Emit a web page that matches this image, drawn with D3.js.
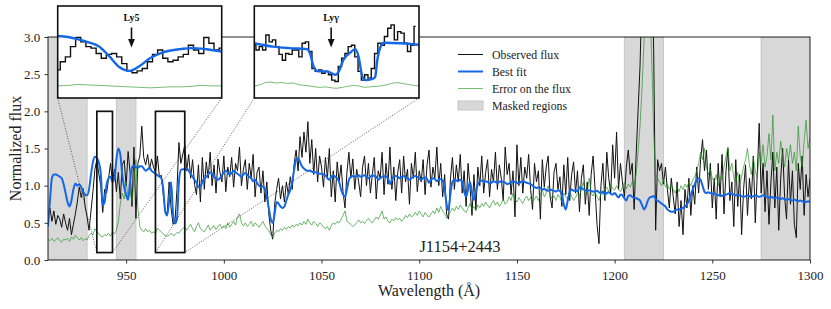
<!DOCTYPE html>
<html>
<head>
<meta charset="utf-8">
<script src="https://cdn.jsdelivr.net/npm/d3@7"></script>
<style>
  body { margin: 0; background: #fff; }
  svg { display: block; }
  svg text { font-family: "Liberation Serif", "DejaVu Serif", serif; }
</style>
</head>
<body>
<div id="chart"></div>
<script>
"use strict";

// main spectrum, 1 A bins starting at 910 A
var waveStart = 910;
var waveEnd = 1300;

var observedFlux = [
  0.62, 0.70, 0.52, 0.66, 0.48, 0.60, 0.55, 0.44, 0.62, 0.50,
  0.40, 0.56, 0.34, 0.48, 0.62, 0.78, 0.98, 0.84, 0.96, 0.72,
  0.58, 0.40, 0.66, 0.92, 1.22, 1.35, 1.16, 1.00, 0.64, 0.95,
  0.90, 1.10, 1.30, 1.04, 1.22, 0.92, 1.18, 0.82, 1.28, 1.34,
  1.00, 1.46, 1.18, 0.72, 1.52, 0.56, 1.30, 1.40, 1.80, 1.38,
  1.28, 1.42, 1.22, 1.36, 1.25, 1.18, 1.40, 1.12, 1.14, 0.88,
  0.66, 0.62, 1.05, 0.70, 0.48, 0.52, 0.95, 1.58, 1.30, 1.42,
  1.55, 1.20, 1.42, 1.10, 1.35, 1.02, 0.88, 1.28, 0.78, 1.38,
  0.95, 1.32, 1.10, 1.45, 1.00, 1.28, 0.90, 1.36, 1.18, 1.05,
  1.40, 0.92, 1.25, 1.12, 1.38, 0.98, 1.30, 1.20, 1.52, 1.00,
  1.22, 1.35, 0.95, 1.30, 1.10, 1.42, 0.85, 1.18, 1.25, 0.90,
  1.20, 0.78, 1.05, 0.62, 0.40, 0.28, 0.75, 0.95, 1.10, 0.82,
  1.00, 0.78, 1.05, 0.88, 1.12, 0.95, 1.30, 1.48, 1.20, 1.66,
  1.38, 1.72, 1.45, 1.86, 1.30, 1.62, 1.15, 1.50, 1.05, 1.40,
  1.25, 0.98, 1.38, 1.10, 1.50, 0.85, 1.20, 0.78, 1.32, 1.05,
  1.28, 0.92, 0.70, 1.18, 1.45, 1.10, 1.36, 0.95, 1.22, 1.05,
  0.85, 1.25, 1.40, 1.00, 1.30, 0.90, 1.15, 1.38, 0.82, 1.20,
  1.10, 1.45, 0.88, 1.30, 1.02, 1.52, 0.95, 1.25, 0.80, 1.18,
  1.35, 0.90, 1.40, 1.05, 1.22, 0.75, 1.30, 1.10, 1.45, 0.92,
  1.20, 1.05, 1.35, 0.88, 1.28, 1.48, 0.98, 1.25, 1.10, 1.52,
  1.00, 1.30, 0.85, 1.15, 0.62, 0.55, 1.10, 1.38, 0.95, 1.28,
  1.05, 1.42, 0.90, 1.20, 0.72, 1.30, 0.98, 0.60, 1.15, 0.68,
  1.25, 1.00, 1.40, 0.90, 1.18, 1.35, 0.85, 1.22, 1.05, 1.45,
  0.95, 1.28, 1.10, 0.80, 1.52, 1.15, 1.30, 0.88, 1.20, 0.58,
  1.55, 1.00, 1.38, 0.90, 1.25, 1.10, 1.42, 0.95, 0.68, 1.30,
  1.05, 1.20, 0.55, 1.35, 0.98, 1.25, 1.40, 0.85, 0.70, 1.18,
  1.30, 0.95, 1.12, 0.72, 1.28, 0.88, 1.38, 0.80, 1.15, 1.32,
  0.90, 1.20, 0.65, 1.10, 1.28, 0.75, 1.05, 0.60, 1.15, 1.40,
  0.95, 0.48, 0.22, 1.00, 1.30, 0.80, 1.45, 1.10, 0.90, 1.55,
  1.10, 1.72, 0.95, 1.30, 1.05, 0.85, 1.25, 1.48, 1.15, 1.30,
  0.68, 1.40, 2.00, 2.60, 3.60, 5.00, 5.00, 5.00, 5.00, 4.00,
  2.80, 0.40, 1.35, 1.20, 1.30, 1.02, 1.25, 0.95, 0.70, 1.10,
  0.85, 0.62, 1.05, 0.45, 0.80, 0.34, 0.95, 0.70, 1.10, 0.60,
  1.00, 0.75, 1.25, 0.90, 1.35, 1.62, 1.20, 1.48, 0.95, 1.30,
  0.70, 1.10, 0.55, 1.30, 0.85, 1.42, 0.62, 1.20, 1.50, 0.80,
  1.05, 0.45, 1.35, 0.72, 1.15, 0.34, 0.95, 1.28, 0.60, 1.10,
  0.82, 1.40, 0.50, 1.15, 1.84, 0.90, 1.30, 0.65, 1.20, 0.48,
  1.05, 1.45, 0.70, 1.25, 0.40, 1.10, 1.50, 0.85, 0.55, 1.35,
  0.75, 1.20, 0.48, 0.30, 1.30, 0.95, 1.40, 0.60, 1.15, 0.85,
  1.10
];

var errorFlux = [
  0.28, 0.26, 0.29, 0.25, 0.27, 0.30, 0.26, 0.24, 0.28, 0.27,
  0.29, 0.25, 0.31, 0.28, 0.33, 0.30, 0.27, 0.30, 0.26, 0.29,
  0.27, 0.33, 0.36, 0.34, 0.42, 0.38, 0.36, 0.32, 0.31, 0.34,
  0.33, 0.36, 0.32, 0.38, 0.35, 0.40, 0.52, 0.75, 0.90, 0.82,
  1.05, 0.85, 0.95, 0.78, 1.10, 1.35, 0.70, 0.45, 0.40, 0.38,
  0.42, 0.38, 0.40, 0.36, 0.38, 0.35, 0.43, 0.40, 0.38, 0.35,
  0.33, 0.32, 0.33, 0.36, 0.33, 0.34, 0.37, 0.36, 0.40, 0.42,
  0.45, 0.40, 0.44, 0.48, 0.42, 0.38, 0.45, 0.50, 0.42, 0.40,
  0.38, 0.42, 0.47, 0.40, 0.44, 0.46, 0.41, 0.45, 0.48, 0.43,
  0.46, 0.42, 0.50, 0.44, 0.48, 0.52, 0.47, 0.58, 0.62, 0.50,
  0.46, 0.50, 0.45, 0.48, 0.52, 0.45, 0.50, 0.47, 0.44, 0.48,
  0.52, 0.46, 0.42, 0.40, 0.34, 0.30, 0.36, 0.40, 0.38, 0.42,
  0.40, 0.44, 0.41, 0.45, 0.43, 0.47, 0.44, 0.48, 0.46, 0.50,
  0.47, 0.52, 0.48, 0.55, 0.50, 0.47, 0.52, 0.49, 0.45, 0.50,
  0.48, 0.44, 0.42, 0.45, 0.40, 0.46, 0.50, 0.48, 0.52, 0.50,
  0.55, 0.60, 0.66, 0.52, 0.50, 0.48, 0.45, 0.47, 0.50, 0.54,
  0.50, 0.52, 0.49, 0.53, 0.56, 0.52, 0.50, 0.54, 0.58, 0.55,
  0.60, 0.66, 0.55, 0.58, 0.52, 0.50, 0.55, 0.53, 0.57, 0.54,
  0.56, 0.52, 0.55, 0.60, 0.57, 0.62, 0.58, 0.60, 0.64, 0.60,
  0.66, 0.62, 0.58, 0.64, 0.60, 0.58, 0.62, 0.66, 0.62, 0.70,
  0.64, 0.72, 0.66, 0.62, 0.56, 0.60, 0.65, 0.70, 0.66, 0.72,
  0.68, 0.74, 0.70, 0.66, 0.64, 0.70, 0.76, 0.68, 0.72, 0.66,
  0.74, 0.70, 0.76, 0.72, 0.78, 0.74, 0.70, 0.76, 0.80, 0.74,
  0.78, 0.72, 0.76, 0.82, 0.75, 0.78, 0.85, 0.80, 0.90, 0.82,
  0.78, 0.84, 0.80, 0.76, 0.82, 0.86, 0.80, 0.84, 0.78, 0.82,
  0.86, 0.80, 0.88, 0.94, 0.85, 0.90, 1.00, 0.88, 0.82, 0.86,
  0.80, 0.88, 0.84, 0.78, 0.90, 0.85, 0.82, 0.92, 0.86, 0.80,
  0.84, 0.90, 0.86, 0.95, 1.05, 0.88, 0.92, 1.10, 0.90, 0.86,
  0.92, 0.85, 0.80, 0.90, 0.88, 0.95, 0.98, 0.92, 1.02, 0.96,
  0.94, 1.00, 0.95, 0.92, 0.98, 1.04, 0.96, 1.02, 0.98, 1.05,
  1.00, 1.15, 1.45, 1.80, 2.30, 2.90, 3.50, 3.80, 3.50, 2.70,
  1.70, 1.15, 1.10, 1.05, 1.00, 1.08, 0.98, 1.02, 0.95, 1.00,
  0.95, 0.90, 0.98, 0.92, 1.00, 0.95, 1.02, 0.98, 1.05, 1.00,
  1.08, 1.12, 1.20, 1.30, 1.45, 1.35, 1.50, 1.25, 1.15, 1.22,
  1.10, 1.05, 1.15, 1.00, 1.12, 1.08, 1.25, 1.40, 1.52, 1.20,
  1.30, 1.10, 1.05, 1.18, 1.00, 1.12, 1.25, 1.35, 1.50, 1.28,
  1.15, 1.38, 1.20, 1.10, 1.45, 1.30, 1.55, 1.25, 1.40, 1.70,
  1.35, 1.95, 1.20, 1.45, 1.30, 1.60, 1.40, 1.25, 1.50, 1.35,
  1.55, 1.30, 1.45, 1.20, 1.80, 1.40, 1.25, 1.60, 1.88, 1.50,
  1.65
];

var bestFit = [
  0.45, 0.80, 1.10, 1.15, 1.15, 1.14, 1.12, 1.10, 1.02, 0.90,
  0.78, 0.72, 0.80, 0.95, 1.03, 1.00, 1.02, 0.98, 0.92, 0.88,
  0.87, 0.95, 1.15, 1.32, 1.39, 1.37, 1.31, 1.17, 0.74, 0.78,
  1.02, 1.10, 1.12, 1.05, 1.10, 1.35, 1.50, 1.42, 1.15, 0.98,
  0.88, 0.81, 1.05, 1.25, 1.27, 1.25, 1.24, 1.26, 1.26, 1.23,
  1.20, 1.22, 1.24, 1.20, 1.18, 1.16, 1.14, 1.12, 1.10, 0.95,
  0.65, 0.60, 0.80, 1.05, 0.62, 0.49, 0.55, 1.05, 1.21, 1.22,
  1.22, 1.23, 1.20, 1.16, 1.12, 1.08, 1.04, 0.98, 0.99, 1.05,
  1.10, 1.12, 1.15, 1.18, 1.16, 1.12, 1.10, 1.08, 1.10, 1.14,
  1.18, 1.20, 1.18, 1.15, 1.17, 1.20, 1.18, 1.16, 1.14, 1.12,
  1.15, 1.17, 1.15, 1.12, 1.10, 1.06, 1.08, 1.04, 1.00, 0.98,
  0.99, 0.96, 0.85, 0.70, 0.55, 0.50, 0.62, 0.78, 0.76, 0.72,
  0.70, 0.72, 0.80, 0.88, 0.94, 1.05, 1.22, 1.35, 1.37, 1.32,
  1.26, 1.23, 1.21, 1.20, 1.20, 1.19, 1.18, 1.18, 1.17, 1.16,
  1.16, 1.15, 1.14, 1.10, 1.08, 1.12, 1.14, 1.12, 1.10, 1.05,
  0.95, 0.88, 0.85, 0.95, 1.08, 1.12, 1.13, 1.12, 1.13, 1.14,
  1.12, 1.13, 1.14, 1.12, 1.10, 1.12, 1.14, 1.13, 1.12, 1.08,
  1.10, 1.12, 1.13, 1.12, 1.10, 1.02, 1.08, 1.12, 1.13, 1.12,
  1.10, 1.12, 1.13, 1.11, 1.10, 1.08, 1.10, 1.12, 1.13, 1.12,
  1.10, 1.08, 1.10, 1.11, 1.09, 1.04, 1.08, 1.10, 1.09, 1.06,
  1.08, 1.09, 1.07, 0.95, 0.75, 0.67, 0.90, 1.05, 1.08, 1.07,
  1.06, 1.08, 1.05, 0.92, 0.85, 0.95, 1.05, 0.90, 0.81, 0.92,
  1.02, 1.06, 1.07, 1.05, 1.06, 1.05, 1.03, 1.04, 1.06, 1.05,
  1.04, 1.05, 1.06, 1.05, 1.04, 1.02, 1.03, 1.05, 1.06, 1.05,
  1.04, 1.03, 1.05, 1.06, 1.05, 1.04, 1.03, 1.02, 1.00, 0.98,
  0.97, 0.98, 0.97, 0.95, 0.96, 0.94, 0.93, 0.95, 0.94, 0.93,
  0.92, 0.94, 0.93, 0.88, 0.75, 0.68, 0.80, 0.92, 0.95, 0.93,
  0.94, 0.92, 0.98, 0.97, 0.95, 0.94, 0.93, 0.94, 0.93, 0.92,
  0.92, 0.93, 0.91, 0.90, 0.92, 0.88, 0.90, 0.91, 0.89, 0.88,
  0.90, 0.87, 0.84, 0.88, 0.87, 0.83, 0.80, 0.86, 0.87, 0.85,
  0.84, 0.83, 0.82, 0.80, 0.74, 0.68, 0.72, 0.80, 0.84, 0.85,
  0.86, 0.82, 0.80, 0.78, 0.76, 0.74, 0.72, 0.68, 0.66, 0.65,
  0.65, 0.67, 0.68, 0.68, 0.69, 0.70, 0.72, 0.75, 0.80, 0.88,
  0.95, 1.02, 1.08, 1.10, 1.08, 1.00, 0.92, 0.90, 0.91, 0.90,
  0.89, 0.90, 0.88, 0.87, 0.88, 0.86, 0.87, 0.88, 0.89, 0.90,
  0.89, 0.88, 0.87, 0.88, 0.87, 0.86, 0.85, 0.86, 0.87, 0.86,
  0.85, 0.86, 0.87, 0.86, 0.85, 0.86, 0.87, 0.86, 0.85, 0.84,
  0.85, 0.84, 0.83, 0.84, 0.83, 0.82, 0.83, 0.82, 0.81, 0.82,
  0.81, 0.80, 0.81, 0.80, 0.79, 0.80, 0.79, 0.78, 0.78, 0.79,
  0.78
];

var maskedRegions = [[910, 930], [945, 955], [1205, 1225], [1275, 1300]];
var xTicks = [950, 1000, 1050, 1100, 1150, 1200, 1250, 1300];
var yTicks = [0, 0.5, 1.0, 1.5, 2.0, 2.5, 3.0];

// zoom windows (wavelength range, flux range) and line marked in each
var zoomRanges = [[935, 943], [965, 980]];
var zoomFlux = [0.1, 2.0];
var lineNames = ["Ly5", "Ly\u03b3"];
var lineWaves = [938.6, 972.0];

// Ly5 inset: observed flux in 0.25 A bins from 935 A
var inset1Start = 935, inset1Step = 0.25;
var inset1Observed = [
  0.68, 0.85, 0.95, 1.16, 1.35, 1.26, 1.16, 1.13, 1.02, 0.92, 1.00,
  1.02, 0.95, 0.81, 0.66, 0.62, 0.66, 0.71, 0.85, 1.00, 1.09, 0.92,
  0.85, 0.88, 0.95, 1.00, 1.19, 1.09, 1.02, 1.35, 1.23, 1.09, 1.13
];
var inset1FitWave = [935, 935.5, 936, 936.5, 937, 937.5, 938, 938.5, 939, 939.5,
  940, 940.5, 941, 941.5, 942, 942.5, 943];
var inset1Fit = [1.38, 1.36, 1.31, 1.25, 1.17, 0.97, 0.74, 0.66, 0.76, 0.92,
  1.02, 1.08, 1.11, 1.13, 1.12, 1.09, 1.06];
var inset1Error = [0.35, 0.36, 0.38, 0.37, 0.36, 0.35, 0.34, 0.33, 0.32, 0.31,
  0.32, 0.33, 0.33, 0.34, 0.36, 0.35, 0.35];

// Ly-gamma inset: observed flux in 0.3 A bins from 965 A
var inset2Start = 965, inset2Step = 0.3;
var inset2Observed = [
  1.20, 1.09, 1.16, 1.09, 1.40, 1.26, 1.30, 1.16, 1.00, 0.88,
  1.02, 1.00, 1.09, 1.09, 0.95, 1.23, 1.26, 1.06, 0.71, 0.65,
  0.68, 0.61, 0.65, 0.58, 0.47, 0.44, 0.75, 0.92, 1.02, 1.16,
  1.19, 0.95, 0.65, 0.47, 0.58, 0.51, 0.71, 1.02, 1.23, 1.19,
  1.37, 1.54, 1.61, 1.30, 1.47, 1.44, 1.23, 1.06, 1.19, 1.58
];
var inset2FitWave = [965.0, 966.7, 968.2, 969.8, 970.1, 970.4, 970.8, 971.6, 972.4, 972.7,
  973.1, 973.7, 974.2, 974.5, 974.8, 975.1, 975.7, 976.0, 976.2, 976.5, 976.8, 978.3, 980.0];
var inset2Fit = [1.23, 1.16, 1.13, 1.11, 1.00, 0.75, 0.65, 0.65, 0.58, 0.65,
  0.88, 1.03, 1.11, 0.95, 0.58, 0.47, 0.49, 0.53, 0.88, 1.16, 1.24, 1.23, 1.20];
var inset2Error = [0.35, 0.37, 0.42, 0.43, 0.41, 0.42, 0.40, 0.41, 0.38, 0.36,
  0.35, 0.33, 0.32, 0.33, 0.31, 0.30, 0.32, 0.34, 0.36, 0.35,
  0.32, 0.33, 0.34, 0.35, 0.37, 0.40, 0.42, 0.40, 0.38, 0.36, 0.35];

var legendLabels = ["Observed flux", "Best fit", "Error on the flux", "Masked regions"];
var objectName = "J1154+2443";

var colObs = "#111111", colFit = "#1467e6", colErr = "#1f8f1f";
var serif = "'Liberation Serif', 'DejaVu Serif', serif";

function createSpectrum(containerId) {
  var W = 831, H = 309;
  var margin = {top: 37, right: 21, bottom: 49, left: 48};
  var x = d3.scaleLinear().domain([waveStart, waveEnd]).range([margin.left, W - margin.right]);
  var y = d3.scaleLinear().domain([0, 3]).range([H - margin.bottom, margin.top]);

  var svg = d3.select(containerId).append("svg")
      .attr("width", W)
      .attr("height", H)
      .attr("font-family", serif);
  svg.append("rect").attr("width", W).attr("height", H).attr("fill", "#fff");

  svg.append("clipPath").attr("id", "mainClip")
    .append("rect")
      .attr("x", x.range()[0]).attr("y", y.range()[1])
      .attr("width", x.range()[1] - x.range()[0])
      .attr("height", y.range()[0] - y.range()[1]);

  var plot = svg.append("g").attr("clip-path", "url(#mainClip)");

  // masked regions
  plot.selectAll("rect.mask").data(maskedRegions).enter().append("rect")
      .attr("class", "mask")
      .attr("x", function(d) { return x(d[0]); })
      .attr("width", function(d) { return x(d[1]) - x(d[0]); })
      .attr("y", y(3)).attr("height", y(0) - y(3))
      .attr("fill", "#d8d8d8").attr("stroke", "#c6c6c6").attr("stroke-width", 1);

  var line = d3.line()
    .x(function(d, i) { return x(waveStart + i); })
    .y(function(d) { return y(d); });

  plot.append("path").datum(observedFlux)
      .attr("d", line).attr("fill", "none")
      .attr("stroke", colObs).attr("stroke-width", 1);
  plot.append("path").datum(errorFlux)
      .attr("d", line).attr("fill", "none")
      .attr("stroke", colErr).attr("stroke-opacity", 0.65).attr("stroke-width", 1);
  plot.append("path").datum(bestFit)
      .attr("d", line.curve(d3.curveMonotoneX)).attr("fill", "none")
      .attr("stroke", colFit).attr("stroke-width", 2).attr("stroke-linejoin", "round");

  // axes
  var xAxis = svg.append("g")
      .attr("transform", "translate(0," + y(0) + ")")
      .call(d3.axisBottom(x).tickValues(xTicks).tickFormat(d3.format("d")).tickSize(3.5).tickSizeOuter(0));
  var yAxis = svg.append("g")
      .attr("transform", "translate(" + x(waveStart) + ",0)")
      .call(d3.axisLeft(y).tickValues(yTicks).tickFormat(d3.format(".1f")).tickSize(3.5).tickSizeOuter(0));
  [xAxis, yAxis].forEach(function(a) {
    a.attr("font-family", serif).attr("font-size", 13);
    a.select(".domain").remove();
    a.selectAll("text").attr("fill", "#222");
    a.selectAll("line").attr("stroke", "#333");
  });
  xAxis.selectAll("text").attr("dy", "1.05em");
  yAxis.selectAll("text").attr("dx", "-0.1em");

  svg.append("rect")
      .attr("x", x(waveStart)).attr("y", y(3))
      .attr("width", x(waveEnd) - x(waveStart)).attr("height", y(0) - y(3))
      .attr("fill", "none").attr("stroke", "#222").attr("stroke-width", 1);

  svg.append("text")
      .attr("x", (x(waveStart) + x(waveEnd)) / 2).attr("y", 296)
      .attr("text-anchor", "middle").attr("font-size", 16).attr("fill", "#222")
      .text("Wavelength (\u00c5)");
  svg.append("text")
      .attr("transform", "translate(21," + ((y(0) + y(3)) / 2) + ") rotate(-90)")
      .attr("text-anchor", "middle").attr("font-size", 16).attr("fill", "#222")
      .text("Normalized flux");
  svg.append("text")
      .attr("x", 460).attr("y", 252)
      .attr("text-anchor", "middle").attr("font-size", 16.5).attr("fill", "#222")
      .text(objectName);

  // zoom boxes, connectors and insets
  var insetBoxes = [
    {left: 57.7, right: 221.7, top: 6, bottom: 98},
    {left: 254.3, right: 419, top: 6, bottom: 98}
  ];
  var insetData = [
    {start: inset1Start, step: inset1Step, obs: inset1Observed, fitW: inset1FitWave, fit: inset1Fit, err: inset1Error},
    {start: inset2Start, step: inset2Step, obs: inset2Observed, fitW: inset2FitWave, fit: inset2Fit, err: inset2Error}
  ];

  zoomRanges.forEach(function(r, k) {
    var b = insetBoxes[k];
    svg.append("rect")
        .attr("x", x(r[0])).attr("y", y(zoomFlux[1]))
        .attr("width", x(r[1]) - x(r[0])).attr("height", y(zoomFlux[0]) - y(zoomFlux[1]))
        .attr("fill", "none").attr("stroke", "#111").attr("stroke-width", 1.7);
    [[b.left, x(r[0])], [b.right, x(r[1])]].forEach(function(p) {
      svg.append("line")
          .attr("x1", p[0]).attr("y1", b.bottom)
          .attr("x2", p[1]).attr("y2", y(zoomFlux[0]))
          .attr("stroke", "#333").attr("stroke-width", 0.8)
          .attr("stroke-dasharray", "1,1.6");
    });
    drawInset(svg, b, r, insetData[k], lineNames[k], lineWaves[k], k);
  });

  // legend
  var lx = 458, ly = 54.5, dy = 17;
  var lg = svg.append("g");
  legendLabels.forEach(function(t, i) {
    var yy = ly + i * dy;
    if (i < 3) {
      lg.append("line").attr("x1", lx).attr("x2", lx + 25).attr("y1", yy).attr("y2", yy)
        .attr("stroke", [colObs, colFit, colErr][i])
        .attr("stroke-opacity", i == 2 ? 0.6 : 1)
        .attr("stroke-width", [1, 2, 1][i]);
    } else {
      lg.append("rect").attr("x", lx).attr("y", yy - 4.5).attr("width", 25).attr("height", 9)
        .attr("fill", "#d8d8d8").attr("stroke", "#c6c6c6");
    }
    lg.append("text").attr("x", lx + 34).attr("y", yy + 4)
      .attr("font-size", 11.8).attr("fill", "#222").text(t);
  });
}

function drawInset(svg, b, range, d, name, lineWave, k) {
  var ix = d3.scaleLinear().domain(range).range([b.left, b.right]);
  var iy = d3.scaleLinear().domain(zoomFlux).range([b.bottom, b.top]);
  var g = svg.append("g");
  g.append("rect").attr("x", b.left).attr("y", b.top)
    .attr("width", b.right - b.left).attr("height", b.bottom - b.top).attr("fill", "#fff");
  g.append("clipPath").attr("id", "insetClip" + k).append("rect")
    .attr("x", b.left).attr("y", b.top)
    .attr("width", b.right - b.left).attr("height", b.bottom - b.top);
  var c = g.append("g").attr("clip-path", "url(#insetClip" + k + ")");

  c.append("path").datum(d.err)
    .attr("d", d3.line().x(function(v, i) { return ix(range[0] + i * 0.5); }).y(function(v) { return iy(v); }))
    .attr("fill", "none").attr("stroke", colErr).attr("stroke-opacity", 0.6).attr("stroke-width", 1);
  c.append("path").datum(d.obs)
    .attr("d", d3.line().curve(d3.curveStep)
      .x(function(v, i) { return ix(d.start + i * d.step); }).y(function(v) { return iy(v); }))
    .attr("fill", "none").attr("stroke", colObs).attr("stroke-width", 1.4);
  c.append("path").datum(d.fit)
    .attr("d", d3.line().curve(d3.curveMonotoneX)
      .x(function(v, i) { return ix(d.fitW[i]); }).y(function(v) { return iy(v); }))
    .attr("fill", "none").attr("stroke", colFit).attr("stroke-width", 2.4).attr("stroke-linejoin", "round");

  g.append("rect").attr("x", b.left).attr("y", b.top)
    .attr("width", b.right - b.left).attr("height", b.bottom - b.top)
    .attr("fill", "none").attr("stroke", "#111").attr("stroke-width", 1.6);

  // line marker
  var ax = ix(lineWave);
  g.append("line").attr("x1", ax).attr("x2", ax).attr("y1", 27.5).attr("y2", 40)
    .attr("stroke", "#111").attr("stroke-width", 1.6);
  g.append("path")
    .attr("d", "M" + (ax - 3.4) + ",39 L" + (ax + 3.4) + ",39 L" + ax + ",47.5 Z")
    .attr("fill", "#111");
  g.append("text").attr("x", ax).attr("y", 20.5).attr("text-anchor", "middle")
    .attr("font-size", 10).attr("font-weight", "bold").attr("fill", "#111").text(name);
}

createSpectrum("#chart");
</script>
</body>
</html>
